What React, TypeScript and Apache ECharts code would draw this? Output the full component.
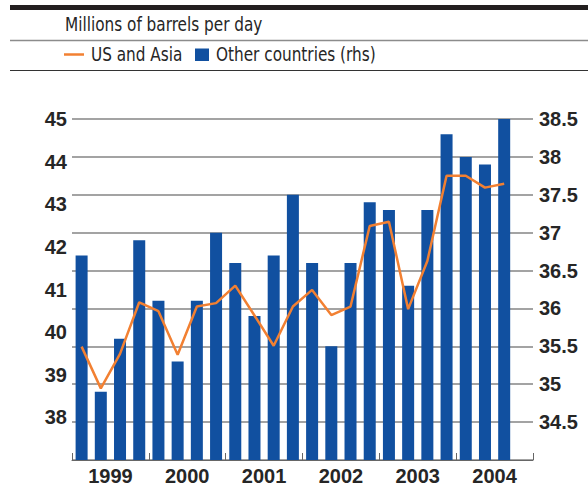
import React, { useEffect, useRef } from "react";
import * as echarts from "echarts";

const quarters = [
  "1999Q1", "1999Q2", "1999Q3", "1999Q4",
  "2000Q1", "2000Q2", "2000Q3", "2000Q4",
  "2001Q1", "2001Q2", "2001Q3", "2001Q4",
  "2002Q1", "2002Q2", "2002Q3", "2002Q4",
  "2003Q1", "2003Q2", "2003Q3", "2003Q4",
  "2004Q1", "2004Q2", "2004Q3", "2004Q4",
];
const years = ["1999", "2000", "2001", "2002", "2003", "2004"];

// US and Asia (lhs, m b/d)
const usAsia = [
  39.66, 38.68, 39.49, 40.7, 40.49, 39.47, 40.6, 40.68, 41.09, 40.39, 39.68, 40.6,
  40.99, 40.4, 40.6, 42.49, 42.59, 40.54, 41.67, 43.67, 43.67, 43.39, 43.48,
];
// Other countries (rhs, m b/d)
const otherCountries = [
  36.7, 34.9, 35.6, 36.9, 36.1, 35.3, 36.1, 37.0, 36.6, 35.9, 36.7, 37.5,
  36.6, 35.5, 36.6, 37.4, 37.3, 36.3, 37.3, 38.3, 38.0, 37.9, 38.5,
];

const TITLE = "Millions of barrels per day";
const LINE_NAME = "US and Asia";
const BAR_NAME = "Other countries (rhs)";

const TEXT = "#262626";
const ORANGE = "#f28032";
const BLUE = "#1150a0";
const NARROW = "'DejaVu Sans Condensed', 'Liberation Sans', sans-serif";
const BOLD = "'Liberation Sans', Arial, sans-serif";
const SQUEEZE = 0.85;

export default function App() {
  const ref = useRef<HTMLDivElement>(null);
  useEffect(() => {
    if (!ref.current) return;
    const chart = echarts.init(ref.current, undefined, { renderer: "svg" });
    chart.setOption({
      animation: false,
      backgroundColor: "#ffffff",
      grid: { left: 72, right: 55, top: 119, bottom: 24, containLabel: false },
      graphic: [
        { type: "rect", shape: { x: 10, y: 5, width: 578, height: 5 }, style: { fill: "#231f20" } },
        { type: "line", shape: { x1: 10, y1: 40.5, x2: 588, y2: 40.5 }, style: { stroke: "#8c8c8c", lineWidth: 1.5 } },
        { type: "line", shape: { x1: 10, y1: 70.5, x2: 588, y2: 70.5 }, style: { stroke: "#333333", lineWidth: 1 } },
        {
          type: "text",
          x: 65,
          y: 24,
          scaleX: SQUEEZE,
          style: { text: TITLE, fill: TEXT, font: `20px ${NARROW}`, verticalAlign: "middle" },
        },
        // legend
        { type: "line", shape: { x1: 64, y1: 54.5, x2: 84, y2: 54.5 }, style: { stroke: ORANGE, lineWidth: 2.5 } },
        {
          type: "text",
          x: 91,
          y: 54,
          scaleX: SQUEEZE,
          style: { text: LINE_NAME, fill: TEXT, font: `20px ${NARROW}`, verticalAlign: "middle" },
        },
        { type: "rect", shape: { x: 195, y: 48.5, width: 14, height: 12.5 }, style: { fill: BLUE } },
        {
          type: "text",
          x: 216,
          y: 54,
          scaleX: SQUEEZE,
          style: { text: BAR_NAME, fill: TEXT, font: `20px ${NARROW}`, verticalAlign: "middle" },
        },
      ],
      xAxis: [
        {
          type: "category",
          data: quarters,
          show: false,
          boundaryGap: true,
        },
        {
          type: "category",
          data: years,
          position: "bottom",
          boundaryGap: true,
          axisLine: { show: true, lineStyle: { color: "#666666", width: 1 } },
          axisTick: { show: true, inside: true, length: 7, interval: 0, lineStyle: { color: "#666666", width: 1 } },
          axisLabel: { color: TEXT, fontSize: 20, fontWeight: "bold", fontFamily: BOLD, margin: 6 },
          splitLine: { show: false },
        },
      ],
      yAxis: [
        {
          type: "value",
          position: "left",
          min: 37,
          max: 45,
          interval: 1,
          axisLine: { show: false },
          axisTick: { show: false },
          splitLine: { show: false },
          axisLabel: { showMinLabel: false, color: TEXT, fontSize: 20, fontWeight: "bold", fontFamily: BOLD, margin: 5 },
        },
        {
          type: "value",
          position: "right",
          min: 34,
          max: 38.5,
          interval: 0.5,
          axisLine: { show: false },
          axisTick: { show: false },
          splitLine: { show: true, lineStyle: { color: "#858585", width: 1.5 } },
          axisLabel: { showMinLabel: false, color: TEXT, fontSize: 20, fontWeight: "bold", fontFamily: BOLD, margin: 6 },
        },
      ],
      series: [
        {
          name: BAR_NAME,
          type: "bar",
          xAxisIndex: 0,
          yAxisIndex: 1,
          data: otherCountries,
          barCategoryGap: "37.5%",
          itemStyle: { color: BLUE },
        },
        {
          name: LINE_NAME,
          type: "line",
          xAxisIndex: 0,
          yAxisIndex: 0,
          data: usAsia,
          symbol: "none",
          lineStyle: { color: ORANGE, width: 2.5 },
          itemStyle: { color: ORANGE },
        },
      ],
    });
    return () => chart.dispose();
  }, []);
  return (
    <div
      ref={ref}
      style={{ position: "absolute", left: 0, top: 0, width: 588, height: 486 }}
    />
  );
}
